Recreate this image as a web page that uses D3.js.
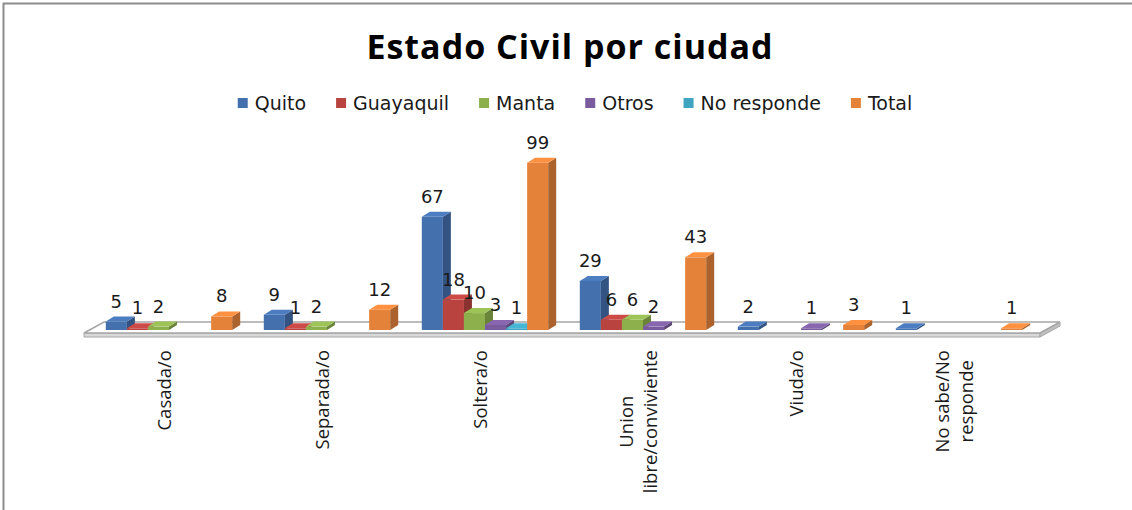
<!DOCTYPE html>
<html lang="es">
<head>
<meta charset="utf-8">
<script src="https://d3js.org/d3.v7.min.js"></script>
<style>
  body { margin: 0; background: #fff; }
  .title { font-family: "Open Sans", sans-serif; font-weight: bold; font-size: 34px; letter-spacing: 1px; fill: #000; }
  .legend text { font-family: "DejaVu Sans", sans-serif; font-size: 19px; fill: #1a1a1a; }
  .value { font-family: "DejaVu Sans", sans-serif; font-size: 18px; fill: #1a1a1a; text-anchor: middle; }
  .cat { font-family: "Open Sans", sans-serif; font-size: 18.5px; fill: #1a1a1a; }
</style>
</head>
<body>
<svg id="chart" width="1132" height="510"></svg>
<script>
// data
const categories = ["Casada/o", "Separada/o", "Soltera/o", "Union libre/conviviente", "Viuda/o", "No sabe/No responde"];
const categoryLines = [["Casada/o"], ["Separada/o"], ["Soltera/o"], ["Union", "libre/conviviente"], ["Viuda/o"], ["No sabe/No", "responde"]];
const seriesNames = ["Quito", "Guayaquil", "Manta", "Otros", "No responde", "Total"];
const quito      = [5, 9, 67, 29, 2, 1];
const guayaquil  = [1, 1, 18, 6, null, null];
const manta      = [2, 2, 10, 6, null, null];
const otros      = [null, null, 3, 2, 1, null];
const noResponde = [null, null, 1, null, null, null];
const total      = [8, 12, 99, 43, 3, 1];
const seriesValues = [quito, guayaquil, manta, otros, noResponde, total];
const colors = ["#4470ad", "#b8433f", "#8db04d", "#7a5c9e", "#3ea4bf", "#e5823a"];

const svg = d3.select("#chart");

// frame
svg.append("rect")
   .attr("x", 3.5).attr("y", 3.5)
   .attr("width", 1140).attr("height", 520)
   .attr("fill", "none").attr("stroke", "#8c8c8c").attr("stroke-width", 2);

svg.append("text").attr("class", "title")
   .attr("x", 570).attr("y", 59)
   .attr("text-anchor", "middle")
   .text("Estado Civil por ciudad");

// scales
const x0 = d3.scaleBand().domain(categories).range([90, 1038]).paddingInner(0.2).paddingOuter(0.1);
const x1 = d3.scaleBand().domain(seriesNames).range([0, x0.bandwidth()]);
const y = d3.scaleLinear().domain([0, 100]).range([330, 161]);

const dx = 8, dy = -5;       // bar depth
const fdx = 20, fdy = -11;   // floor depth

// floor
const fl = x0.range()[0] - 6, fr = x0.range()[1] + 2, fy = 333;
const floor = svg.append("g");
floor.append("polygon")
     .attr("points", [[fl, fy], [fr, fy], [fr, fy + 4], [fl, fy + 4]].join(" "))
     .attr("fill", "#d9d9d9").attr("stroke", "#a6a6a6");
floor.append("polygon")
     .attr("points", [[fr, fy], [fr + fdx, fy + fdy], [fr + fdx, fy + fdy + 4], [fr, fy + 4]].join(" "))
     .attr("fill", "#bfbfbf").attr("stroke", "#a6a6a6");
floor.append("polygon")
     .attr("points", [[fl, fy], [fl + fdx, fy + fdy], [fr + fdx, fy + fdy], [fr, fy]].join(" "))
     .attr("fill", "#fff").attr("stroke", "#a6a6a6").attr("stroke-width", 1.5);

// bars
const bars = [];
categories.forEach((c, ci) => {
  seriesNames.forEach((s, si) => {
    const v = seriesValues[si][ci];
    if (v != null) bars.push({ cat: c, series: s, si: si, value: v });
  });
});

const barG = svg.append("g");
bars.forEach(d => {
  const a = x0(d.cat) + x1(d.series);
  const b = a + x1.bandwidth();
  const top = y(d.value), base = y(0);
  const col = d3.color(colors[d.si]);
  const g = barG.append("g");
  g.append("rect")
   .attr("x", a).attr("y", top)
   .attr("width", b - a).attr("height", base - top)
   .attr("fill", col.formatHex());
  g.append("polygon")
   .attr("points", [[b, base], [b + dx, base + dy], [b + dx, top + dy], [b, top]].join(" "))
   .attr("fill", col.darker(0.8).formatHex());
  g.append("polygon")
   .attr("points", [[a, top], [a + dx, top + dy], [b + dx, top + dy], [b, top]].join(" "))
   .attr("fill", col.brighter(0.3).formatHex());
});

// value labels
svg.append("g").selectAll("text")
   .data(bars)
   .join("text")
   .attr("class", "value")
   .attr("x", d => x0(d.cat) + x1(d.series) + x1.bandwidth() / 2)
   .attr("y", d => y(d.value) - 14)
   .text(d => d.value);

// category labels (rotated)
const catG = svg.append("g");
categories.forEach((c, ci) => {
  const lines = categoryLines[ci];
  const cx = x0(c) + x0.bandwidth() / 2 - 6;
  const t = catG.append("text").attr("class", "cat");
  const lh = 24;
  const spans = lines.map(ln => t.append("tspan").text(ln));
  const maxLen = d3.max(spans, sp => sp.node().getComputedTextLength());
  const yTop = 350;
  t.attr("transform", `translate(${cx},${yTop + maxLen / 2}) rotate(-90)`)
   .attr("text-anchor", "middle");
  spans.forEach((sp, li) => {
    sp.attr("x", 0)
      .attr("y", (li - (lines.length - 1) / 2) * lh)
      .attr("dominant-baseline", "central");
  });
});

// legend
const legend = svg.append("g").attr("class", "legend");
let lx = 0;
seriesNames.forEach((s, i) => {
  const g = legend.append("g");
  g.append("rect").attr("x", 0).attr("y", -5).attr("width", 10).attr("height", 10).attr("fill", colors[i]);
  const t = g.append("text").attr("x", 17).attr("y", 0).attr("dominant-baseline", "central").text(s);
  const w = 17 + t.node().getComputedTextLength();
  g.attr("transform", `translate(${lx},0)`);
  lx += w + 30;
});
const legendWidth = lx - 30;
legend.attr("transform", `translate(${575 - legendWidth / 2},103)`);
</script>
</body>
</html>
